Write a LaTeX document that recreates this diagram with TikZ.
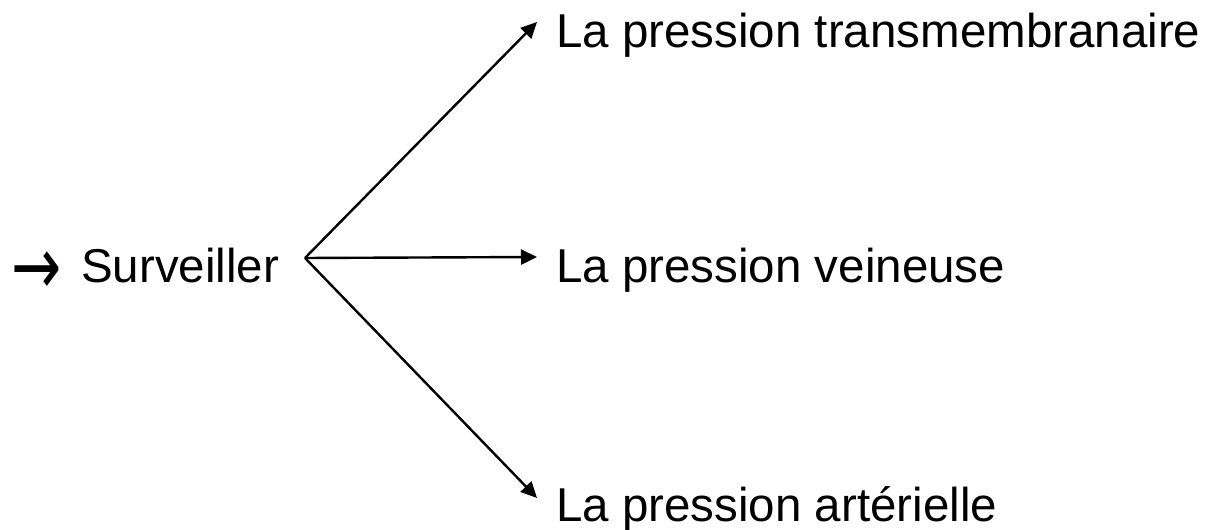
\documentclass[tikz,border=0pt]{standalone}
\usepackage{fontspec}
\usepackage{graphicx}
\setmainfont{Liberation Sans}
\newfontfamily\symfont{DejaVu Sans}
\usetikzlibrary{arrows.meta}
\tikzset{
  lbl/.style={anchor=base west, inner sep=0pt, font=\fontsize{47.5}{57}\selectfont},
  conn/.style={line width=2.4pt, -{Triangle[length=16pt,width=15pt]}}
}
\begin{document}
\begin{tikzpicture}[x=1pt,y=1pt]
\useasboundingbox (0,0) rectangle (1213,530);
\node[lbl] (arr) at (11,235) {\scalebox{1}[1.35]{\symfont\fontsize{60}{70}\selectfont →}};
\node[lbl] (surv) at (81,247) {Surveiller};
\coordinate (o) at (305,272);
\node[lbl] (t1) at (556,482) {La pression transmembranaire};
\node[lbl] (t2) at (556,247) {La pression veineuse};
\node[lbl] (t3) at (556,8) {La pression artérielle};
\coordinate (e1) at (537,508);
\coordinate (e2) at (537,273);
\coordinate (e3) at (537,32);
\draw[conn] (o) -- (e1);
\draw[conn] (o) -- (e2);
\draw[conn] (o) -- (e3);
\end{tikzpicture}
\end{document}
